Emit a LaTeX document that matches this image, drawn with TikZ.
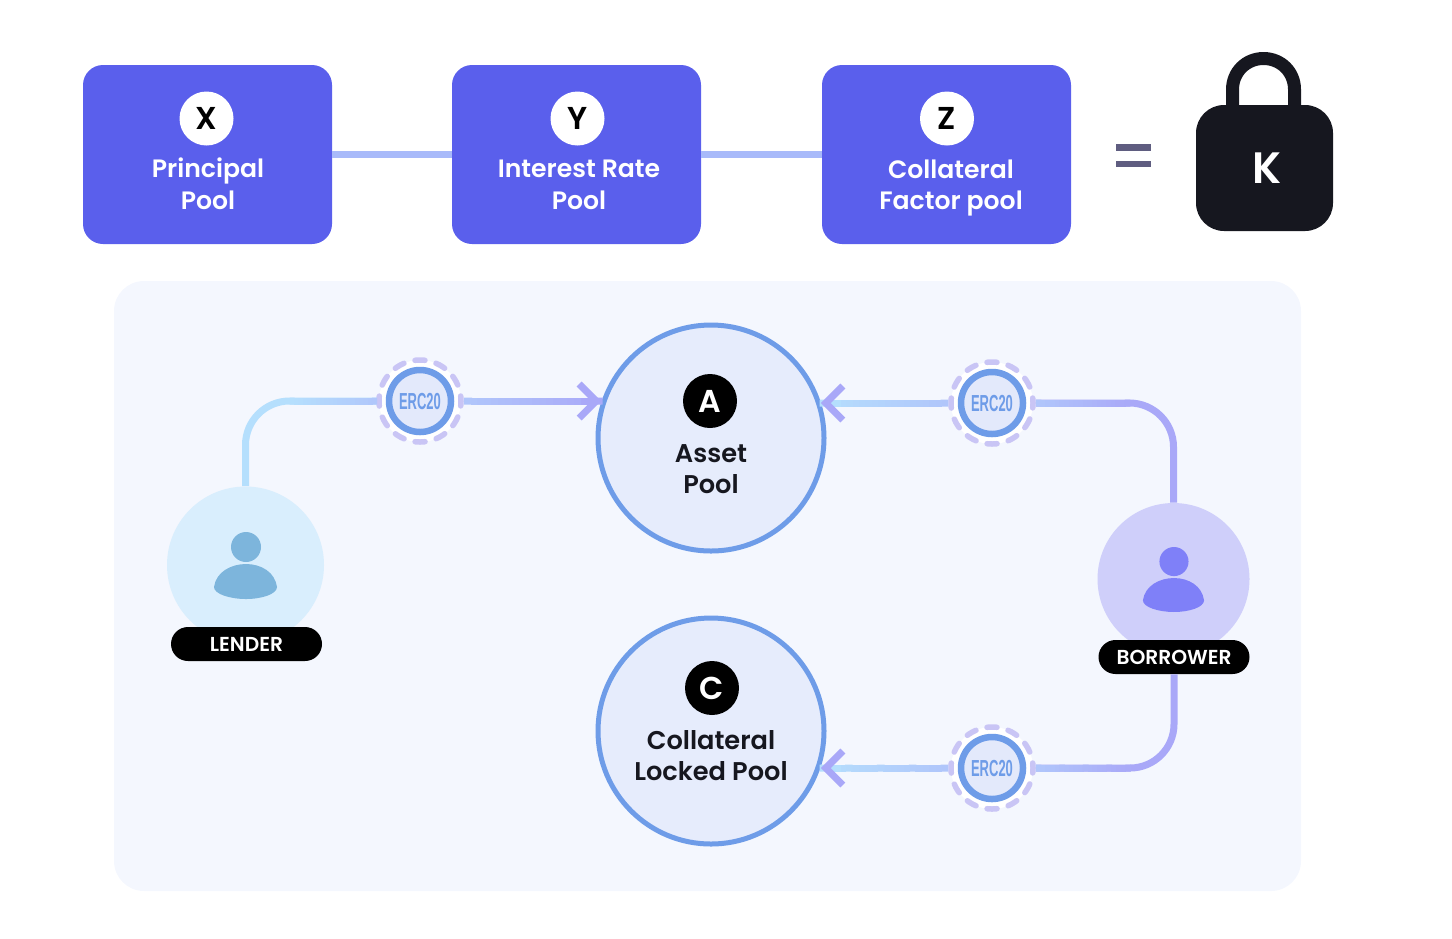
\documentclass[tikz,border=0pt]{standalone}
\usepackage{fontspec}
\setmainfont{Poppins}[BoldFont=Poppins SemiBold]
\newfontfamily\ercfont{Liberation Sans Bold}
\usetikzlibrary{arrows.meta,calc,positioning}
\def\px{0.02cm}
\definecolor{poolblue}{HTML}{5A5FEC}
\definecolor{linkblue}{HTML}{A8BAFA}
\definecolor{panelbg}{HTML}{F4F7FE}
\definecolor{ringblue}{HTML}{6E9CE8}
\definecolor{poolfill}{HTML}{E6ECFC}
\definecolor{ercfill}{HTML}{E3E9FB}
\definecolor{dashring}{HTML}{C9C5F5}
\definecolor{inkdark}{HTML}{16171F}
\definecolor{equalgrey}{HTML}{5F5D80}
\definecolor{shaftlight}{HTML}{B5DFFD}
\definecolor{shaftmid}{HTML}{B0C6FB}
\definecolor{shaftdeep}{HTML}{A9A8F8}
\definecolor{lenderbg}{HTML}{D9EEFD}
\definecolor{lenderfg}{HTML}{7DB5DC}
\definecolor{borrowerbg}{HTML}{CFCFFA}
\definecolor{borrowerfg}{HTML}{7F80F8}
\tikzset{
  poolbox/.style={fill=poolblue, rounded corners=20*\px, minimum width=249*\px, minimum height=179*\px},
  badge/.style={circle, minimum size=54*\px, inner sep=0pt, font=\bfseries\fontsize{18}{18}\selectfont},
  boxtext/.style={align=center, text=white, inner sep=0pt, font=\bfseries\fontsize{14.3}{18.1}\selectfont},
  pooltext/.style={align=center, text=inkdark, inner sep=0pt, font=\bfseries\fontsize{14.6}{17.6}\selectfont},
  linkline/.style={linkblue, line width=7*\px},
  bigpool/.style={circle, draw=ringblue, fill=poolfill, line width=5*\px, minimum size=226*\px, inner sep=0pt},
  ercring/.style={circle, draw=dashring, fill=white, line width=5.5*\px, line cap=round, minimum size=82*\px, inner sep=0pt,
    dash pattern=on 10*\px off 11.47*\px, dash phase=5*\px},
  ercdisc/.style={circle, draw=ringblue, fill=ercfill, line width=6.5*\px, minimum size=62*\px, inner sep=0pt, text=ringblue},
  actor/.style={circle, minimum size=#1*\px, inner sep=0pt},
  pill/.style={fill=black, text=white, rounded corners=17*\px, minimum width=151*\px, minimum height=34*\px, inner sep=0pt,
    font=\bfseries\fontsize{11.5}{12}\selectfont},
  shaft/.style={line width=7*\px},
  chevron/.style={-{Straight Barb[color=shaftdeep, length=17*\px, width=34*\px, line width=7*\px]}, shaft},
  person/.pic={
    \fill[pic actions] (1,-18) circle (15);
    \fill[pic actions] (-31,22) .. controls (-29,7) and (-14,-1) .. (1,-1) .. controls (16,-1) and (30,7) .. (32,22)
      .. controls (32,29) and (17,34) .. (1,34) .. controls (-15,34) and (-31,29) .. (-31,22) -- cycle;
  },
}
% straight connector that changes colour along its length
\newcommand{\gradshaft}[4]{
  \foreach \p in {0,5,...,95}
    \draw[shaft, #4!\p!#3] ($(#1)!\p/100!(#2)$) -- ($(#1)!{(\p+6)/100}!(#2)$);
}
\begin{document}
\begin{tikzpicture}[x=\px, y=-\px]
  \useasboundingbox (0,0) rectangle (1452,938);

  % top row
  \node[poolbox] (principal) at (207.5,154.5) {};
  \node[poolbox] (interest) at (576.5,154.5) {};
  \node[poolbox] (factor) at (946.5,154.5) {};
  \draw[linkline] (principal) -- (interest);
  \draw[linkline] (interest) -- (factor);
  \node[badge, fill=white] (x) at (206.5,118.5) {X};
  \node[badge, fill=white] (y) at (577.5,118.5) {Y};
  \node[badge, fill=white] (z) at (947,118.5) {Z};
  \node[boxtext] (principaltext) at (208,184) {Principal\\Pool};
  \node[boxtext] (interesttext) at (579,185) {Interest Rate\\Pool};
  \node[boxtext] (factortext) at (951,188) {Collateral\\Factor pool};

  % equals and lock
  \fill[equalgrey] (1116,144) rectangle (1151,151);
  \fill[equalgrey] (1116,161) rectangle (1151,167);
  \node[fill=inkdark, rounded corners=28*\px, minimum width=137*\px, minimum height=126*\px, inner sep=0pt,
    text=white, font=\bfseries\fontsize{25}{25}\selectfont] (lock) at (1264.5,168) {\hspace{0.12em}K};
  \draw[inkdark, line width=13*\px] (1232.5,106) -- (1232.5,89.5)
    .. controls (1232.5,72) and (1246,58.5) .. (1263.5,58.5)
    .. controls (1281,58.5) and (1294.5,72) .. (1294.5,89.5) -- (1294.5,106);

  % panel
  \fill[panelbg] (114,281) [rounded corners=30*\px] rectangle (1301,891);

  % pools
  \node[bigpool] (asset) at (711,438) {};
  \node[bigpool] (locked) at (711,731) {};
  \node[badge, fill=black, text=white] (a) at (710,401) {A};
  \node[badge, fill=black, text=white] (c) at (712,688) {C};
  \node[pooltext] (assettext) at (711,469) {Asset\\Pool};
  \node[pooltext] (lockedtext) at (711,756) {Collateral\\Locked Pool};

  % tokens
  \foreach \ercname/\x/\y in {erca/420/401, ercb/992/403, ercc/992/768} {
    \node[ercring] (\ercname) at (\x,\y) {};
    \node[ercdisc] (\ercname disc) at (\x,\y)
      {\ercfont\fontsize{13.2}{13}\selectfont\scalebox{0.56}[1]{ERC20}};
  }

  % actors
  \node[actor=157, fill=lenderbg] (lender) at (245.5,565) {};
  \pic[fill=lenderfg] at (245,565) {person};
  \node[pill] (lenderpill) at (246.5,644) {LENDER};
  \node[actor=152, fill=borrowerbg] (borrower) at (1173.5,579) {};
  \pic[fill=borrowerfg, scale=0.97] at (1173,579) {person};
  \node[pill] (borrowerpill) at (1174,657) {BORROWER};

  % lender to asset pool
  \draw[shaft, shaftlight, rounded corners=44*\px] (lender.north) |- (erca.west);
  \coordinate (leftbend) at (lender.north |- erca.west);
  \gradshaft{$(leftbend)+(44,0)$}{erca.west}{shaftlight}{shaftmid}
  \coordinate (assetin) at (erca.east -| asset.162);
  \gradshaft{erca.east}{assetin}{shaftmid}{shaftdeep}
  \draw[chevron, shaftdeep] ($(assetin)+(-20,0)$) -- (assetin);

  % borrower to asset pool
  \draw[shaft, shaftdeep, rounded corners=44*\px] (borrower.north) |- (ercb.east);
  \coordinate (rightbend) at (borrower.north |- ercb.east);
  \gradshaft{ercb.east}{$(rightbend)+(-44,0)$}{shaftmid}{shaftdeep}
  \coordinate (assetback) at (ercb.west -| asset.18);
  \gradshaft{ercb.west}{assetback}{shaftmid}{shaftlight}
  \draw[chevron, shaftlight] ($(assetback)+(20,0)$) -- (assetback);

  % borrower to locked pool
  \draw[shaft, shaftdeep, rounded corners=44*\px] (borrowerpill.south) |- (ercc.east);
  \coordinate (lowbend) at (borrowerpill.south |- ercc.east);
  \gradshaft{ercc.east}{$(lowbend)+(-44,0)$}{shaftmid}{shaftdeep}
  \coordinate (lockedin) at (ercc.west -| locked.-18);
  \gradshaft{ercc.west}{lockedin}{shaftmid}{shaftlight}
  \draw[chevron, shaftlight] ($(lockedin)+(20,0)$) -- (lockedin);
\end{tikzpicture}
\end{document}
